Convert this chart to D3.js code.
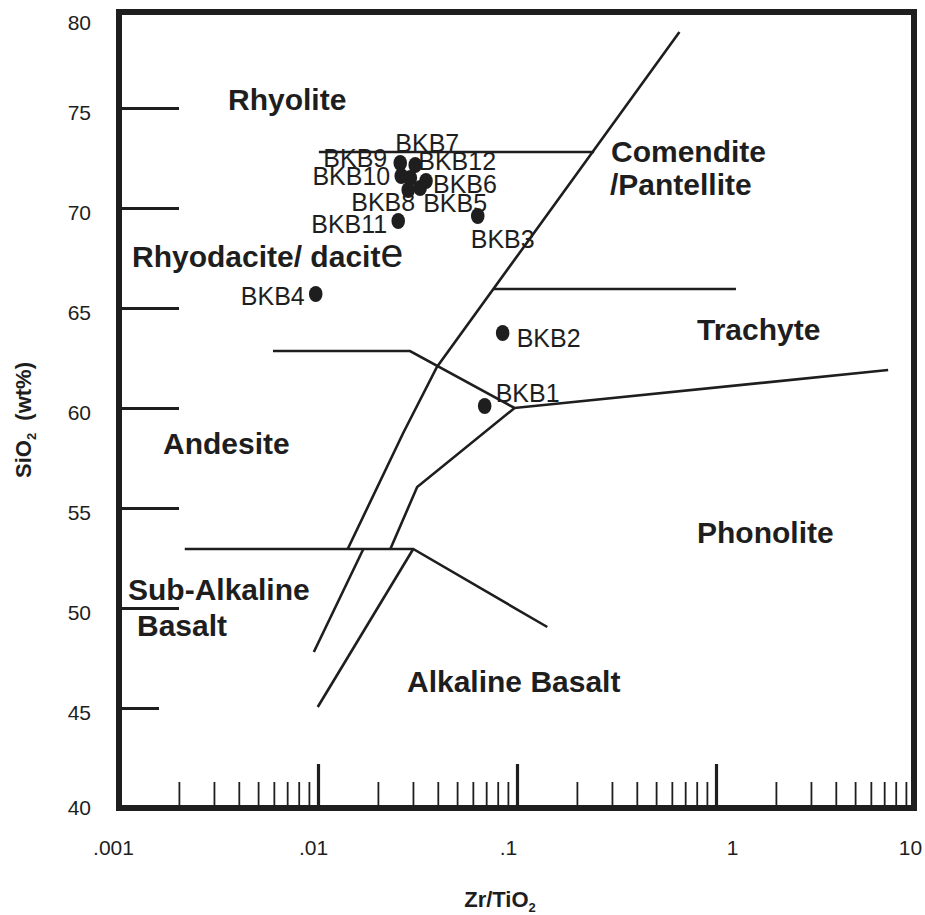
<!DOCTYPE html>
<html>
<head>
<meta charset="utf-8">
<script src="https://cdn.jsdelivr.net/npm/d3@7/dist/d3.min.js"></script>
<style>
    html, body { margin: 0; padding: 0; background: #fff; }
    svg { display: block; font-family: "Liberation Sans", Arial, sans-serif; }
</style>
</head>
<body>
<div id="chart"></div>
<script>
const sampleNames = ["BKB1", "BKB2", "BKB3", "BKB4", "BKB5", "BKB6",
                     "BKB7", "BKB8", "BKB9", "BKB10", "BKB11", "BKB12"];
const zrTiO2 = [0.0688, 0.0847, 0.0635, 0.00974, 0.0326, 0.0349,
                0.0291, 0.0284, 0.0259, 0.0262, 0.0253, 0.0308];
const sio2   = [60.1, 63.75, 69.6, 65.7, 71.0, 71.35,
                71.5, 70.9, 72.25, 71.6, 69.35, 72.15];

const xTickValues = [0.001, 0.01, 0.1, 1, 10];
const xTickLabels = [".001", ".01", ".1", "1", "10"];
const yTickValues = [40, 45, 50, 55, 60, 65, 70, 75, 80];

// field boundaries as [Zr/TiO2, SiO2] polylines
const rhyoliteLine   = [[0.0101, 72.8], [0.244, 72.8]];
const alkalineLine   = [[0.655, 78.8], [0.0396, 62.05], [0.0268, 58.75], [0.0141, 52.95]];
const trachyteLine   = [[0.0763, 65.95], [1.26, 65.95]];
const andesiteLine   = [[0.00594, 62.85], [0.0290, 62.85], [0.0972, 60.0], [7.33, 61.9]];
const trachyAndLine  = [[0.0972, 60.0], [0.0315, 56.05], [0.0231, 52.95]];
const basaltTopLine  = [[0.00214, 52.95], [0.0301, 52.95], [0.142, 49.05]];
const subAlkLine     = [[0.0169, 52.95], [0.00953, 47.8]];
const alkBasaltLine  = [[0.0301, 52.95], [0.00997, 45.05]];
const boundaries = [rhyoliteLine, alkalineLine, trachyteLine, andesiteLine,
                    trachyAndLine, basaltTopLine, subAlkLine, alkBasaltLine];

// 2. LAYOUT
const CHART = { width: 925, height: 915 };
const FRAME = { x0: 119, x1: 914, y0: 12, y1: 808 };
const INK = "#1e1e1e";

// the original figure's x tick labels sit a little off their ticks
const xLabelNudge = [-6, -5, -9, 16, -5];

// label placement (pixels, relative to each sample dot): dx, dy, anchor
const sampleLabelOffsets = [
    [11, -4, "start"], [14, 14, "start"], [-7, 32, "start"], [-11, 11, "end"],
    [3, 24, "start"], [7, 12, "start"], [-15, -26, "start"], [7, 21, "end"],
    [-13, 4, "end"], [-11, 9, "end"], [-11, 12, "end"], [3, 5, "start"]
];

const fieldLabels = [
    { text: "Rhyolite", x: 228, y: 110 },
    { text: "Comendite", x: 611, y: 162 },
    { text: "/Pantellite", x: 610, y: 195 },
    { text: "Rhyodacite/ dacit", tail: "e", x: 132, y: 267 },
    { text: "Trachyte", x: 697, y: 340 },
    { text: "Andesite", x: 163, y: 454 },
    { text: "Phonolite", x: 697, y: 543 },
    { text: "Sub-Alkaline", x: 128, y: 600 },
    { text: "Basalt", x: 137, y: 636 },
    { text: "Alkaline Basalt", x: 407, y: 692 }
];

function renderChart() {
    const svg = d3.select("#chart").append("svg")
        .attr("width", CHART.width)
        .attr("height", CHART.height);

    const xScale = d3.scaleLog().domain([0.001, 10]).range([FRAME.x0, 915]);
    const yScale = d3.scaleLinear().domain([40, 80]).range([808, 8]);

    // --- x axis: minor ticks, then major ticks with labels ---
    const minorTicks = xScale.ticks().filter(v => {
        const e = Math.log10(v);
        return Math.abs(e - Math.round(e)) > 1e-6;
    });

    const xMinor = svg.append("g")
        .attr("transform", `translate(0,${FRAME.y1})`)
        .call(d3.axisBottom(xScale).tickValues(minorTicks).tickSize(-26).tickFormat(""));
    xMinor.select(".domain").remove();
    xMinor.selectAll("line").attr("stroke", INK).attr("stroke-width", 1.8);

    const xMajor = svg.append("g")
        .attr("transform", `translate(0,${FRAME.y1})`)
        .call(d3.axisBottom(xScale)
            .tickValues(xTickValues)
            .tickSize(-44)
            .tickPadding(32)
            .tickFormat((d, i) => xTickLabels[i]));
    xMajor.select(".domain").remove();
    xMajor.selectAll("line")
        .attr("stroke", INK).attr("stroke-width", 3.2)
        .filter(d => d === 0.001 || d === 10).remove();
    xMajor.selectAll("text")
        .attr("font-family", "Liberation Sans, Arial, sans-serif")
        .attr("font-size", 21).attr("fill", INK)
        .attr("dx", (d, i) => xLabelNudge[i]);

    // --- y axis: ticks pointing into the plot ---
    const yAxis = svg.append("g")
        .attr("transform", `translate(${FRAME.x0},0)`)
        .call(d3.axisLeft(yScale).tickValues(yTickValues).tickSize(-60).tickPadding(28));
    yAxis.select(".domain").remove();
    yAxis.selectAll("line")
        .attr("stroke", INK).attr("stroke-width", 3)
        .attr("x2", d => d === 45 ? 40 : 60)
        .filter(d => d === 40 || d === 80).remove();
    yAxis.selectAll("text")
        .attr("font-family", "Liberation Sans, Arial, sans-serif")
        .attr("font-size", 21).attr("fill", INK)
        .attr("dy", d => d === 80 ? "1.03em" : d === 40 ? "0.32em" : "0.56em");

    // --- frame ---
    svg.append("rect")
        .attr("x", FRAME.x0).attr("y", FRAME.y0)
        .attr("width", FRAME.x1 - FRAME.x0)
        .attr("height", FRAME.y1 - FRAME.y0)
        .attr("fill", "none").attr("stroke", INK).attr("stroke-width", 6);

    // --- field boundaries ---
    const line = d3.line().x(d => xScale(d[0])).y(d => yScale(d[1]));
    svg.append("g").selectAll("path")
        .data(boundaries)
        .join("path")
        .attr("d", line)
        .attr("fill", "none")
        .attr("stroke", INK)
        .attr("stroke-width", 2.6)
        .attr("stroke-linejoin", "miter");

    // --- field names ---
    const fields = svg.append("g")
        .attr("font-weight", "bold")
        .attr("font-size", 30)
        .attr("fill", INK);
    fieldLabels.forEach(f => {
        const t = fields.append("text").attr("x", f.x).attr("y", f.y).text(f.text);
        if (f.tail) {
            t.append("tspan").attr("font-weight", "normal").attr("font-size", 41).text(f.tail);
        }
    });

    // --- samples ---
    const samples = sampleNames.map((name, i) => ({ name, x: zrTiO2[i], y: sio2[i], off: sampleLabelOffsets[i] }));

    svg.append("g").selectAll("ellipse")
        .data(samples)
        .join("ellipse")
        .attr("cx", d => xScale(d.x))
        .attr("cy", d => yScale(d.y))
        .attr("rx", 6.8).attr("ry", 8)
        .attr("fill", INK);

    svg.append("g").selectAll("text")
        .data(samples)
        .join("text")
        .attr("x", d => xScale(d.x) + d.off[0])
        .attr("y", d => yScale(d.y) + d.off[1])
        .attr("text-anchor", d => d.off[2])
        .attr("font-size", 25)
        .attr("fill", INK)
        .text(d => d.name);

    // --- axis titles ---
    const xTitle = svg.append("text")
        .attr("x", 500).attr("y", 907)
        .attr("text-anchor", "middle")
        .attr("font-weight", "bold").attr("font-size", 22).attr("fill", INK)
        .text("Zr/TiO");
    xTitle.append("tspan").attr("font-size", 13).attr("dy", 5).text("2");

    const yTitle = svg.append("text")
        .attr("transform", "translate(31,420) rotate(-90)")
        .attr("text-anchor", "middle")
        .attr("font-weight", "bold").attr("font-size", 22).attr("fill", INK)
        .text("SiO");
    yTitle.append("tspan").attr("font-size", 13).attr("dy", 5).text("2");
    yTitle.append("tspan").attr("dy", -5).text("\u00a0\u00a0(wt%)");
}

document.addEventListener("DOMContentLoaded", renderChart);
</script>
</body>
</html>
